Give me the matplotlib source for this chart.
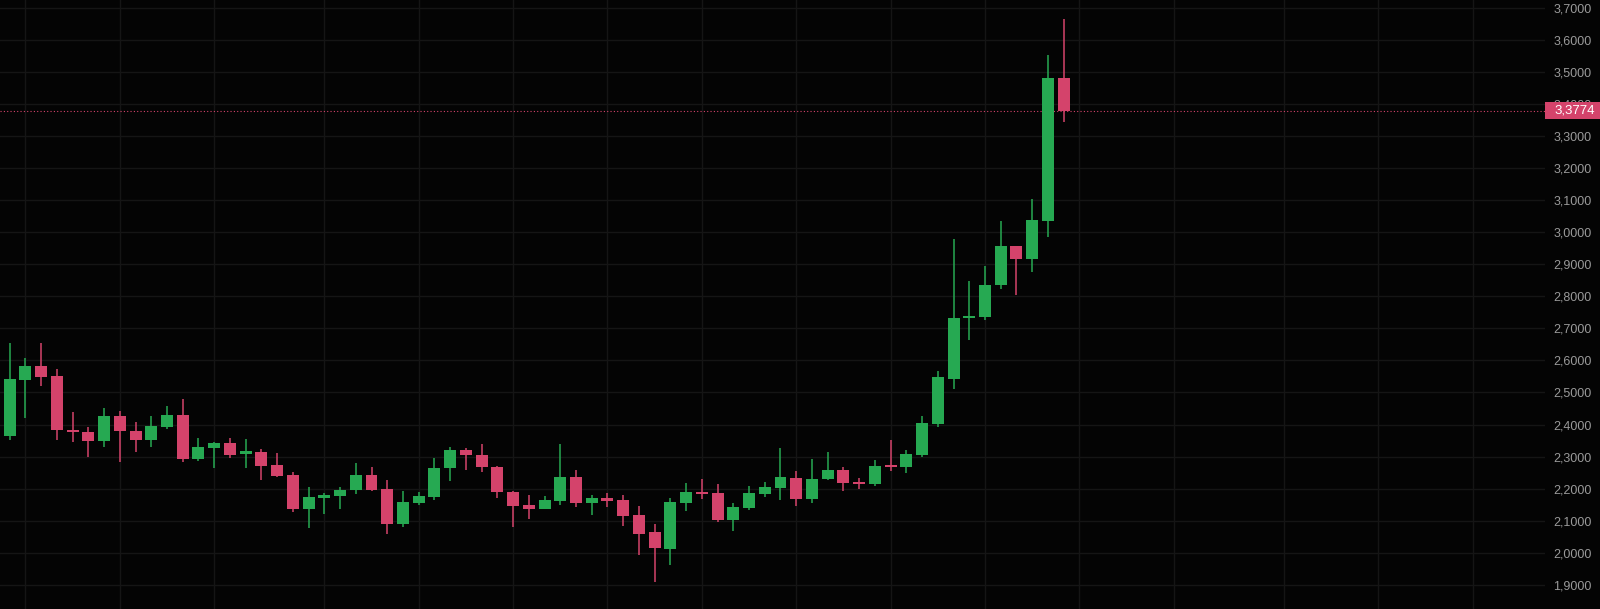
import matplotlib
matplotlib.use("Agg")
import matplotlib.pyplot as plt
from matplotlib.patches import Rectangle
from matplotlib.transforms import IdentityTransform

opens = [2.364, 2.540, 2.583, 2.551, 2.384, 2.378, 2.350, 2.427, 2.381, 2.353,
         2.392, 2.430, 2.292, 2.327, 2.342, 2.307, 2.314, 2.274, 2.243, 2.137,
         2.172, 2.177, 2.195, 2.243, 2.199, 2.091, 2.156, 2.174, 2.264, 2.321,
         2.306, 2.269, 2.191, 2.148, 2.136, 2.163, 2.237, 2.156, 2.171, 2.165,
         2.119, 2.064, 2.013, 2.156, 2.190, 2.186, 2.103, 2.140, 2.184, 2.203,
         2.233, 2.169, 2.231, 2.257, 2.221, 2.215, 2.272, 2.267, 2.305, 2.403,
         2.543, 2.731, 2.736, 2.834, 2.957, 2.917, 3.036, 3.481]
highs = [2.655, 2.606, 2.655, 2.572, 2.439, 2.392, 2.452, 2.443, 2.408, 2.427,
         2.458, 2.480, 2.358, 2.346, 2.359, 2.355, 2.324, 2.311, 2.252, 2.204,
         2.188, 2.204, 2.280, 2.267, 2.226, 2.192, 2.191, 2.295, 2.330, 2.327,
         2.339, 2.272, 2.192, 2.180, 2.177, 2.339, 2.258, 2.180, 2.187, 2.180,
         2.146, 2.090, 2.171, 2.218, 2.229, 2.215, 2.155, 2.209, 2.220, 2.327,
         2.255, 2.293, 2.315, 2.269, 2.233, 2.290, 2.352, 2.321, 2.427, 2.568,
         2.978, 2.848, 2.894, 3.035, 2.957, 3.102, 3.552, 3.664]
lows = [2.353, 2.421, 2.520, 2.352, 2.346, 2.298, 2.331, 2.284, 2.315, 2.330,
        2.387, 2.283, 2.287, 2.266, 2.296, 2.266, 2.226, 2.237, 2.128, 2.079,
        2.122, 2.137, 2.183, 2.194, 2.060, 2.082, 2.148, 2.166, 2.223, 2.257,
        2.252, 2.172, 2.082, 2.107, 2.136, 2.150, 2.143, 2.119, 2.144, 2.084,
        1.992, 1.909, 1.961, 2.132, 2.168, 2.097, 2.068, 2.134, 2.175, 2.165,
        2.146, 2.156, 2.226, 2.194, 2.200, 2.209, 2.255, 2.250, 2.300, 2.393,
        2.512, 2.665, 2.725, 2.824, 2.805, 2.877, 2.986, 3.344]
closes = [2.542, 2.583, 2.549, 2.382, 2.376, 2.350, 2.427, 2.379, 2.353, 2.396,
          2.430, 2.293, 2.329, 2.342, 2.306, 2.318, 2.272, 2.240, 2.137, 2.174,
          2.180, 2.197, 2.243, 2.197, 2.091, 2.160, 2.176, 2.266, 2.321, 2.304,
          2.267, 2.189, 2.146, 2.137, 2.165, 2.237, 2.156, 2.171, 2.163, 2.116,
          2.060, 2.016, 2.160, 2.189, 2.183, 2.103, 2.142, 2.186, 2.204, 2.237,
          2.168, 2.231, 2.257, 2.218, 2.215, 2.272, 2.268, 2.309, 2.404, 2.548,
          2.732, 2.738, 2.836, 2.957, 2.917, 3.038, 3.481, 3.3774]
y_ticks = [1.9, 2.0, 2.1, 2.2, 2.3, 2.4, 2.5, 2.6, 2.7, 2.8, 2.9, 3.0,
           3.1, 3.2, 3.3, 3.4, 3.5, 3.6, 3.7]
x_grid = [1, 7, 13, 20, 26, 32, 38, 44, 50, 56, 62, 68, 74, 81, 87, 93]

UP = "#26a952"
DOWN = "#d4436b"
BG = "#040404"
GRID = "#151515"
LBL = "#9a9a9a"

fig = plt.figure(figsize=(16, 6.09), dpi=100, facecolor=BG)
ax = fig.add_axes([0, 0, 1545 / 1600, 1])
ax.set_facecolor(BG)

xs = list(range(len(opens)))
cols = [UP if c >= o else DOWN for o, c in zip(opens, closes)]
ax.vlines(xs, lows, highs, colors=cols, linewidth=1.1, zorder=2)
bottoms = [min(o, c) for o, c in zip(opens, closes)]
heights = [max(abs(c - o), 0.006) for o, c in zip(opens, closes)]
ax.bar(xs, heights, bottom=bottoms, width=0.76, color=cols, linewidth=0, zorder=3)

ax.set_xlim(-0.617, 97.6)
ax.set_ylim(1.825, 3.7234)

for g in x_grid:
    ax.axvline(g, color=GRID, linewidth=1, zorder=0)
for t in y_ticks:
    ax.axhline(t, color=GRID, linewidth=1, zorder=0)

last = closes[-1]
ax.axhline(last, color=DOWN, linewidth=0.8, linestyle=(0, (1, 2)), zorder=1)

for s in ax.spines.values():
    s.set_visible(False)
ax.set_xticks([])
ax.yaxis.tick_right()
ax.set_yticks(y_ticks)
ax.set_yticklabels([f"{v:.4f}".replace(".", ",") for v in y_ticks],
                   fontfamily="Liberation Sans", fontsize=9, color=LBL)
ax.tick_params(axis="y", length=0, pad=6)

fig.canvas.draw()
yd = ax.transData.transform((0, last))[1]
rect = Rectangle((1545, yd - 8.5), 55, 17, transform=IdentityTransform(),
                 facecolor=DOWN, edgecolor="none", zorder=10)
fig.patches.append(rect)
fig.text(1554 / 1600, yd / 609, f"{last:.4f}".replace(".", ","),
         fontfamily="Liberation Sans", fontsize=9.5, color="white",
         ha="left", va="center", zorder=11)

fig.savefig("out.png", dpi=100, facecolor=BG)
